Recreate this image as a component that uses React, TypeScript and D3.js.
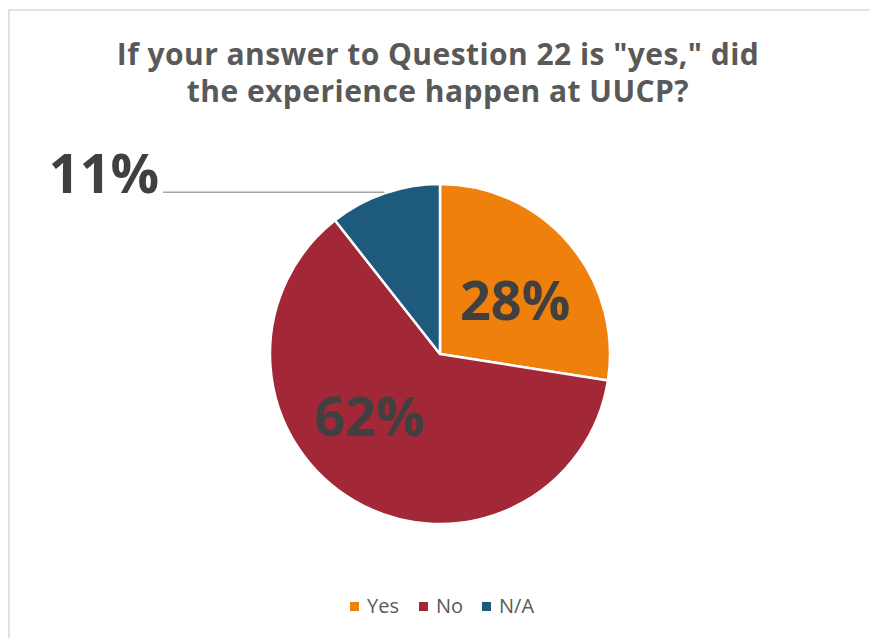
import React from "react";
import * as d3 from "d3";

const categories = ["Yes", "No", "N/A"];
const values = [27.5, 61.9, 10.6];
const colors = ["#EF800B", "#A22838", "#1E5A7C"];
const titleLines = ['If your answer to Question 22 is "yes," did', "the experience happen at UUCP?"];
// label placement (polar, relative to pie center): angle in degrees clockwise from top, radius in px; null = outside with leader
const labelAngles = [54.8, 228.5, null];
const labelRadii = [92, 94, null];

const W = 870;
const H = 638;
const cx = 440;
const cy = 354;
const R = 170;
const FONT = "'Open Sans', Lato, sans-serif";

export default function App() {
  const pie = d3.pie<number>().sort(null).value((d) => d);
  const arcs = pie(values);
  const arcGen = d3.arc<d3.PieArcDatum<number>>().innerRadius(0).outerRadius(R);
  const total = d3.sum(values);
  const fmt = (v: number) => `${Math.round((v / total) * 100)}%`;

  return (
    <svg width={W} height={H} style={{ position: "absolute", left: 0, top: 0, background: "#fff" }}>
      <rect x={9} y={10} width={W + 20} height={H + 20} fill="#fff" stroke="#d9d9d9" strokeWidth={1.5} />
      <g fontFamily={FONT} fontWeight={700} fill="#595959" fontSize={30} letterSpacing={0.45} textAnchor="middle">
        {titleLines.map((t, i) => (
          <text key={i} x={438} y={65 + i * 37}>
            {t}
          </text>
        ))}
      </g>
      <g transform={`translate(${cx},${cy})`}>
        {arcs.map((a, i) => (
          <path key={i} d={arcGen(a) || ""} fill={colors[i]} stroke="#fff" strokeWidth={2.5} strokeLinejoin="round" />
        ))}
      </g>
      {arcs.map((a, i) => {
        const ang = labelAngles[i];
        if (ang == null) {
          const mid = (a.startAngle + a.endAngle) / 2;
          const ex = cx + R * Math.sin(mid);
          const ey = cy - R * Math.cos(mid);
          return (
            <g key={i}>
              <line x1={163} y1={ey - 1} x2={ex} y2={ey - 1} stroke="#a6a6a6" strokeWidth={1.5} />
              <text x={104} y={193} textAnchor="middle" fontFamily={FONT} fontWeight={700} fontSize={54} fill="#404040">
                {fmt(values[i])}
              </text>
            </g>
          );
        }
        const t = (ang * Math.PI) / 180;
        const lx = cx + labelRadii[i]! * Math.sin(t);
        const ly = cy - labelRadii[i]! * Math.cos(t);
        return (
          <text key={i} x={lx} y={ly} dy="0.36em" textAnchor="middle" fontFamily={FONT} fontWeight={700} fontSize={54} fill="#404040">
            {fmt(values[i])}
          </text>
        );
      })}
      <g fontFamily={FONT} fontSize={20} fill="#595959">
        {categories.map((c, i) => {
          const x = [350, 419, 482][i];
          return (
            <g key={c}>
              <rect x={x} y={602} width={9} height={9} fill={colors[i]} />
              <text x={x + 17} y={613}>
                {c}
              </text>
            </g>
          );
        })}
      </g>
    </svg>
  );
}
